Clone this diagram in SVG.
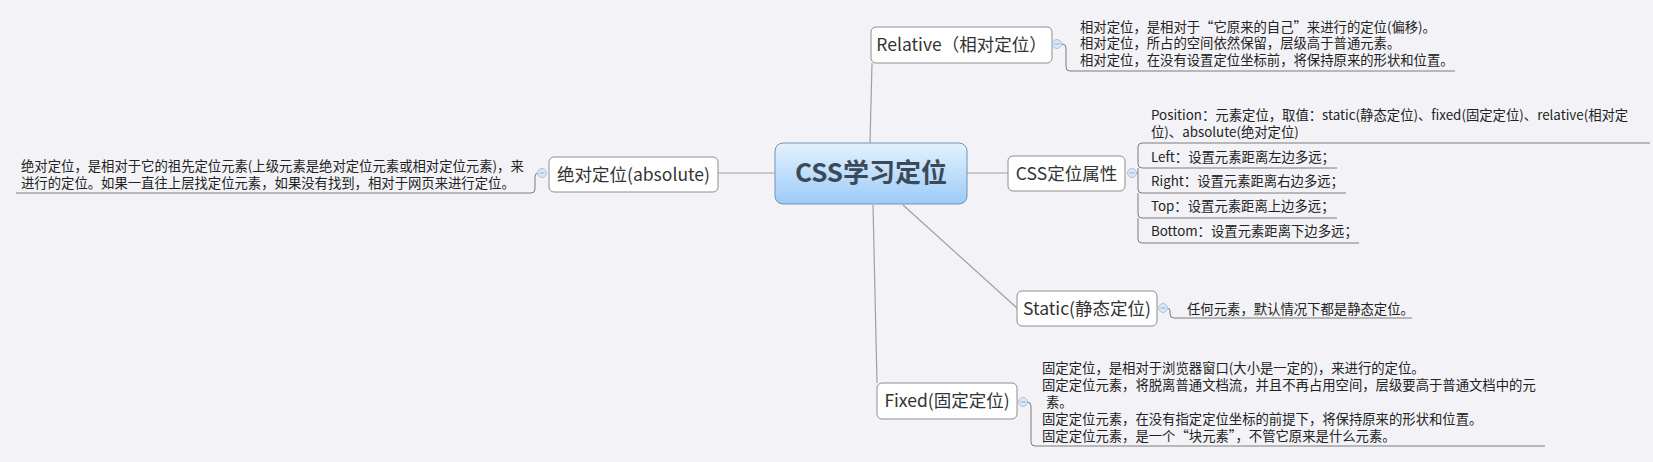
<svg xmlns="http://www.w3.org/2000/svg" width="1653" height="462" viewBox="0 0 1653 462">
<defs>
<linearGradient id="cg" x1="0" y1="0" x2="0" y2="1">
<stop offset="0" stop-color="#e4f2fe"/>
<stop offset="1" stop-color="#9ccbf7"/>
</linearGradient>
<style>
text{font-family:"Noto Sans CJK SC","Liberation Sans",sans-serif;}
.box{fill:#ffffff;stroke:#8e8e8e;stroke-width:1;}
.lbl{font-size:17.5px;fill:#333333;text-anchor:middle;}
.det{font-size:13.35px;fill:#222222;}
.con{fill:none;stroke:#a0a0a0;stroke-width:1.2;}
.brk{fill:none;stroke:#7c7c7c;stroke-width:1;}
.ico{fill:#dbe7f4;stroke:#a9c3df;stroke-width:1;}
.icom{stroke:#8fb0d4;stroke-width:1;}
</style>
</defs>
<rect x="0" y="0" width="1653" height="462" fill="#f3f3f7"/>
<g id="connectors">
<path class="con" d="M870,143 L872,63"/>
<path class="con" d="M873,205 L877,383"/>
<path class="con" d="M775,173 H718"/>
<path class="con" d="M967,173 H1008"/>
<path class="con" d="M903,205 L1017,308"/>
</g>
<g id="central">
<rect x="775" y="143" width="192" height="61" rx="8" fill="url(#cg)" stroke="#7393b3" stroke-width="1"/>
<text x="871" y="182" font-size="26" font-weight="bold" fill="#3b4a5b" text-anchor="middle">CSS学习定位</text>
</g>
<g id="relative">
<rect class="box" x="871" y="27" width="181" height="36" rx="5"/>
<text class="lbl" x="961.5" y="51">Relative（相对定位）</text>
<path class="brk" d="M1061,44 H1062 Q1066,44 1066,48 V67 Q1066,71 1070,71 H1455"/>
<circle class="ico" cx="1057" cy="44" r="4.5"/>
<line class="icom" x1="1054.5" y1="44" x2="1059.5" y2="44"/>
<text class="det" x="1080" y="32">相对定位，是相对于“它原来的自己”来进行的定位(偏移)。</text>
<text class="det" x="1080" y="48">相对定位，所占的空间依然保留，层级高于普通元素。</text>
<text class="det" x="1080" y="65">相对定位，在没有设置定位坐标前，将保持原来的形状和位置。</text>
</g>
<g id="cssattr">
<rect class="box" x="1008" y="156" width="117" height="35" rx="5"/>
<text class="lbl" x="1066.5" y="180">CSS定位属性</text>
<path class="brk" d="M1136,173 H1138"/>
<path class="brk" d="M1650,143 H1142 Q1138,143 1138,147 V164 Q1138,168 1142,168 H1337"/>
<path class="brk" d="M1138,168 V189 Q1138,193 1142,193 H1346"/>
<path class="brk" d="M1138,193 V214 Q1138,218 1142,218 H1337"/>
<path class="brk" d="M1138,218 V239 Q1138,243 1142,243 H1359"/>
<circle class="ico" cx="1132" cy="173" r="4.5"/>
<line class="icom" x1="1129.5" y1="173" x2="1134.5" y2="173"/>
<text class="det" x="1151" y="120">Position：元素定位，取值：static(静态定位)、fixed(固定定位)、relative(相对定</text>
<text class="det" x="1151" y="137">位)、absolute(绝对定位)</text>
<text class="det" x="1151" y="162">Left：设置元素距离左边多远；</text>
<text class="det" x="1151" y="186">Right：设置元素距离右边多远；</text>
<text class="det" x="1151" y="211">Top：设置元素距离上边多远；</text>
<text class="det" x="1151" y="236">Bottom：设置元素距离下边多远；</text>
</g>
<g id="absolute">
<rect class="box" x="549" y="157" width="169" height="35" rx="5"/>
<text class="lbl" x="633.5" y="181">绝对定位(absolute)</text>
<path class="brk" d="M538,173 Q535,173 535,177 V189 Q535,193 531,193 H16"/>
<circle class="ico" cx="542" cy="173" r="4.5"/>
<line class="icom" x1="539.5" y1="173" x2="544.5" y2="173"/>
<text class="det" x="21" y="171">绝对定位，是相对于它的祖先定位元素(上级元素是绝对定位元素或相对定位元素)，来</text>
<text class="det" x="21" y="188">进行的定位。如果一直往上层找定位元素，如果没有找到，相对于网页来进行定位。</text>
</g>
<g id="static">
<rect class="box" x="1017" y="291" width="140" height="35" rx="5"/>
<text class="lbl" x="1087" y="315">Static(静态定位)</text>
<path class="brk" d="M1167,308 Q1170,308 1170,311 V314 Q1170,318 1174,318 H1412"/>
<circle class="ico" cx="1163" cy="308" r="4.5"/>
<line class="icom" x1="1160.5" y1="308" x2="1165.5" y2="308"/>
<text class="det" x="1187" y="314">任何元素，默认情况下都是静态定位。</text>
</g>
<g id="fixed">
<rect class="box" x="877" y="383" width="140" height="36" rx="5"/>
<text class="lbl" x="947" y="407">Fixed(固定定位)</text>
<path class="brk" d="M1027,402 Q1031,402 1031,406 V442 Q1031,446 1035,446 H1545"/>
<circle class="ico" cx="1023" cy="402" r="4.5"/>
<line class="icom" x1="1020.5" y1="402" x2="1025.5" y2="402"/>
<text class="det" x="1042" y="373">固定定位，是相对于浏览器窗口(大小是一定的)，来进行的定位。</text>
<text class="det" x="1042" y="390">固定定位元素，将脱离普通文档流，并且不再占用空间，层级要高于普通文档中的元</text>
<text class="det" x="1046" y="407">素。</text>
<text class="det" x="1042" y="424">固定定位元素，在没有指定定位坐标的前提下，将保持原来的形状和位置。</text>
<text class="det" x="1042" y="441">固定定位元素，是一个“块元素”，不管它原来是什么元素。</text>
</g>
</svg>
